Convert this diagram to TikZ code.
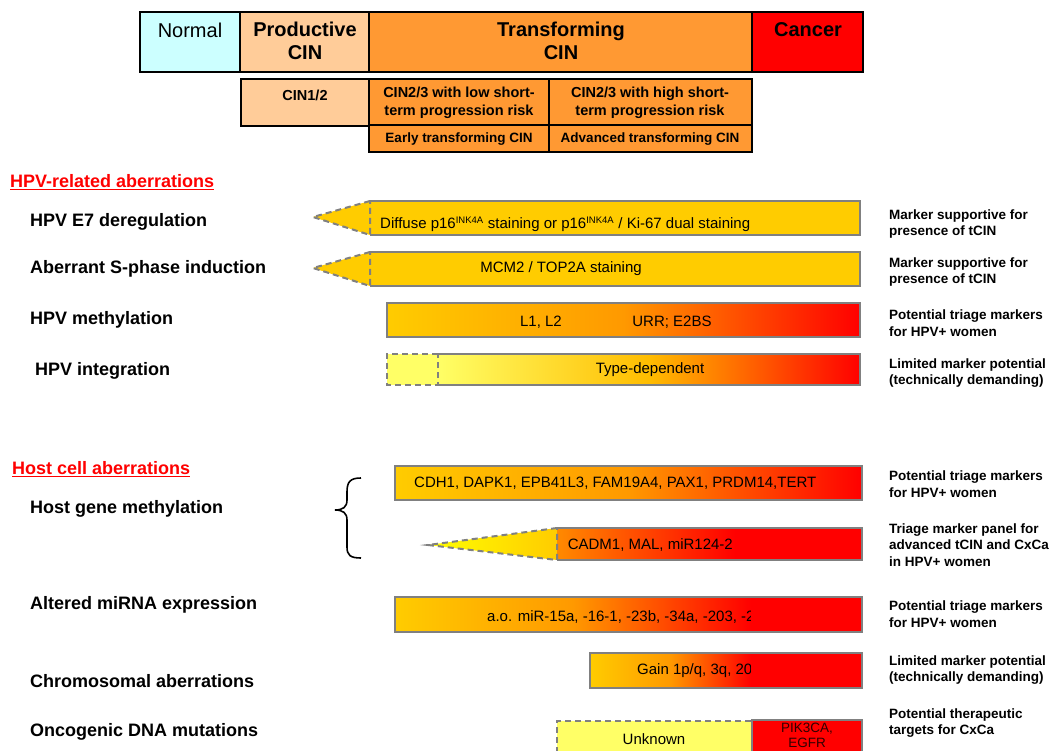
\documentclass[tikz,border=0pt]{standalone}
\usepackage{fontspec}
\setmainfont{Liberation Sans}
\definecolor{cyanbg}{HTML}{CCFFFF}
\definecolor{peach}{HTML}{FFCC99}
\definecolor{orng}{HTML}{FF9933}
\definecolor{gold}{HTML}{FFCC00}
\definecolor{ltyel}{HTML}{FFFF66}
\definecolor{midor}{HTML}{FF9900}
\definecolor{bargray}{HTML}{808080}
\definecolor{maroonc}{HTML}{300000}
\tikzset{
  hdr/.style={draw=black, line width=2pt},
  bar/.style={draw=bargray, line width=2pt},
  dbar/.style={draw=bargray, line width=2pt, dash pattern=on 6pt off 4pt},
  lbl/.style={font=\fontsize{18}{21}\selectfont\bfseries, anchor=west, inner sep=0},
  sect/.style={font=\fontsize{18}{21}\selectfont\bfseries, text=red, anchor=west, inner sep=0},
  rt/.style={font=\fontsize{13.5}{16.5}\selectfont\bfseries, anchor=west, align=left, inner sep=0},
  bt/.style={font=\fontsize{15}{17}\selectfont, inner sep=0},
  ht/.style={font=\fontsize{20}{23}\selectfont\bfseries, align=center, inner sep=0},
  st/.style={font=\fontsize{14.5}{18}\selectfont\bfseries, align=center, inner sep=0},
  grad/.style={left color=gold, right color=red, middle color=midor}
}
\begin{document}
\begin{tikzpicture}[x=1pt,y=-1pt]
\useasboundingbox (0,0) rectangle (1052,751);
% ---------- header ----------
\fill[cyanbg] (140,12) rectangle (240,72);
\fill[peach] (240,12) rectangle (369,72);
\fill[orng] (369,12) rectangle (752,72);
\fill[red] (752,12) rectangle (863,72);
\draw[hdr] (140,12) rectangle (863,72);
\draw[hdr] (240,12) -- (240,72) (369,12) -- (369,72) (752,12) -- (752,72);
\node[font=\fontsize{20}{23}\selectfont, inner sep=0] (normal) at (190,30) {Normal};
\node[ht] (prod) at (305,41) {Productive\\CIN};
\node[ht] (trans) at (561,41) {Transforming\\CIN};
\node[ht] (cancer) at (808,30) {Cancer};
% second row
\fill[peach] (241,79) rectangle (369,126);
\fill[orng] (369,79) rectangle (752,152);
\draw[hdr] (241,79) rectangle (369,126);
\draw[hdr] (369,79) rectangle (752,152);
\draw[hdr] (369,125) -- (752,125) (549,79) -- (549,152);
\node[st] (cin12) at (305,95) {CIN1/2};
\node[st] (low) at (459,103) {CIN2/3 with low short-\\term progression risk};
\node[st] (high) at (650,103) {CIN2/3 with high short-\\term progression risk};
\node[st, font=\fontsize{13.5}{15}\selectfont\bfseries] (early) at (459,139) {Early transforming CIN};
\node[st, font=\fontsize{13.5}{15}\selectfont\bfseries] (adv) at (650,139) {Advanced transforming CIN};
% ---------- section headings ----------
\node[sect] (hpvsec) at (10,182) {\underline{HPV-related aberrations}};
\node[sect] (hostsec) at (12,469) {\underline{Host cell aberrations}};
% ---------- left labels ----------
\node[lbl] (l1) at (30,222) {HPV E7 deregulation};
\node[lbl] (l2) at (30,269) {Aberrant S-phase induction};
\node[lbl] (l3) at (30,320) {HPV methylation};
\node[lbl] (l4) at (35,371) {HPV integration};
\node[lbl] (l5) at (30,509) {Host gene methylation};
\node[lbl] (l6) at (30,605) {Altered miRNA expression};
\node[lbl] (l7) at (30,681) {Chromosomal aberrations};
\node[lbl] (l8) at (30,732) {Oncogenic DNA mutations};
% ---------- bar 1: E7 ----------
\fill[gold] (313,217) -- (370,201) -- (860,201) -- (860,235) -- (370,235) -- cycle;
\draw[bar] (370,201) -- (860,201) -- (860,235) -- (370,235);
\draw[dbar] (370,201) -- (313,217) -- (370,235) -- cycle;
\node[bt, anchor=west] (b1) at (380,224) {Diffuse p16\textsuperscript{\fontsize{9.5}{10}\selectfont INK4A} staining or p16\textsuperscript{\fontsize{9.5}{10}\selectfont INK4A} / Ki-67 dual staining};
% ---------- bar 2: S-phase ----------
\fill[gold] (313,268) -- (370,252) -- (860,252) -- (860,286) -- (370,286) -- cycle;
\draw[bar] (370,252) -- (860,252) -- (860,286) -- (370,286);
\draw[dbar] (370,252) -- (313,268) -- (370,286) -- cycle;
\node[bt] (b2) at (561,269) {MCM2 / TOP2A staining};
% ---------- bar 3: HPV methylation ----------
\shade[grad] (387,303) rectangle (860,337);
\draw[bar] (387,303) rectangle (860,337);
\node[bt] (b3a) at (541,322) {L1, L2};
\node[bt] (b3b) at (672,322) {URR; E2BS};
% ---------- bar 4: HPV integration ----------
\fill[ltyel] (387,354) rectangle (438,385);
\shade[left color=ltyel, right color=red, middle color=gold!80!orange] (438,354) rectangle (860,385);
\draw[bar] (438,354) -- (860,354) -- (860,385) -- (438,385);
\draw[dbar] (438,354) -- (387,354) -- (387,385) -- (438,385) -- cycle;
\node[bt] (b4) at (650,370) {Type-dependent};
% ---------- bar 5: host gene methylation ----------
\shade[grad] (395,466) rectangle (862,500);
\draw[bar] (395,466) rectangle (862,500);
\node[bt, anchor=west] (b5) at (414,483) {CDH1, DAPK1, EPB41L3, FAM19A4, PAX1, PRDM14,TERT};
% ---------- bar 6: CADM1 ----------
\shade[left color=yellow, right color=gold] (428,545) -- (557,528) -- (557,560) -- cycle;
\shade[left color=midor!90!red, right color=red] (557,528) rectangle (735,560);
\fill[red] (735,528) rectangle (862,560);
\draw[bar] (557,528) -- (862,528) -- (862,560) -- (557,560);
\draw[dbar] (557,528) -- (428,545) -- (557,560) -- cycle;
\node[bt, anchor=east] (b6) at (733,545) {CADM1, MAL, miR124-2};
% brace
\draw[line width=1.6pt] (361,478) .. controls (350,478) and (347,482) .. (347,492) -- (347,500) .. controls (347,507) and (343,510) .. (335,510) .. controls (343,510) and (347,513) .. (347,520) -- (347,547) .. controls (347,555) and (350,558) .. (361,558);
% ---------- bar 7: miRNA ----------
\shade[grad] (395,597) rectangle (751,632);
\node[bt, anchor=west] (b7) at (487,617) {a.o. miR-15a, -16-1, -23b, -34a, -203, -21};
\fill[red] (751,597) rectangle (862,632);
\draw[bar] (395,597) rectangle (862,632);
% ---------- bar 8: chromosomal ----------
\shade[grad] (590,653) rectangle (751,688);
\node[bt, anchor=west] (b8) at (637,671) {Gain 1p/q, 3q, 20q};
\fill[red] (751,653) rectangle (862,688);
\draw[bar] (590,653) rectangle (862,688);
% ---------- bar 9: DNA mutations ----------
\fill[ltyel] (557,721) rectangle (751,760);
\draw[dbar] (751,721) -- (557,721) -- (557,760);
\fill[red] (752,720) rectangle (862,760);
\draw[bar] (752,760) -- (752,720) -- (862,720) -- (862,760);
\node[bt] (b9a) at (654,739) {Unknown};
\node[inner sep=0, text=maroonc, align=center, font=\fontsize{13.5}{15.5}\selectfont] (b9b) at (807,735.5) {PIK3CA,\\EGFR};
% ---------- right texts ----------
\node[rt] (r1) at (889,224) {Marker supportive for\\presence of tCIN};
\node[rt] (r2) at (889,272) {Marker supportive for\\presence of tCIN};
\node[rt] (r3) at (889,323) {Potential triage markers\\for HPV+ women};
\node[rt] (r4) at (889,373) {Limited marker potential\\(technically demanding)};
\node[rt] (r5) at (889,484) {Potential triage markers\\for HPV+ women};
\node[rt] (r6) at (889,545) {Triage marker panel for\\advanced tCIN and CxCa\\in HPV+ women};
\node[rt] (r7) at (889,614) {Potential triage markers\\for HPV+ women};
\node[rt] (r8) at (889,670) {Limited marker potential\\(technically demanding)};
\node[rt] (r9) at (889,723) {Potential therapeutic\\targets for CxCa};
\end{tikzpicture}
\end{document}
